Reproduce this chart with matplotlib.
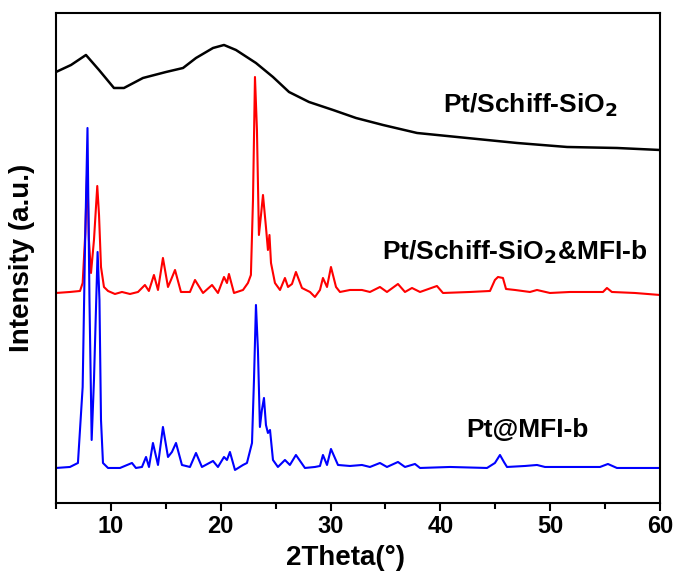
import matplotlib
matplotlib.use("Agg")
import matplotlib.pyplot as plt
from matplotlib.ticker import MultipleLocator

plt.rcParams['font.family'] = ['Liberation Sans', 'DejaVu Sans']
plt.rcParams['font.weight'] = 'bold'
plt.rcParams['mathtext.default'] = 'bf'

# Pt/Schiff-SiO2 (black)
x_black = [5.00, 6.37, 7.73, 8.92, 10.28, 11.19, 12.92, 15.02, 16.57, 17.75,
           19.30, 20.30, 21.39, 23.21, 24.76, 26.22, 28.04, 30.23, 32.32, 34.78,
           37.88, 42.43, 46.99, 51.54, 56.09, 60.00]
y_black = [431, 438, 448, 433, 415, 415, 425, 431, 435, 445,
           455, 458, 453, 440, 426, 411, 401, 393, 385, 378,
           370, 365, 360, 356, 355, 353]

# Pt/Schiff-SiO2&MFI-b (red)
x_red = [5.00, 6.27, 7.19, 7.43, 7.67, 7.85, 8.00, 8.19, 8.46, 8.76,
         8.92, 9.10, 9.37, 9.74, 10.37, 11.01, 11.74, 12.47, 13.10, 13.46,
         13.92, 14.29, 14.74, 15.20, 15.47, 15.84, 16.38, 17.20, 17.66, 18.39,
         19.21, 19.75, 20.30, 20.57, 20.75, 21.21, 22.03, 22.48, 22.75, 22.94,
         23.12, 23.30, 23.48, 23.67, 23.85, 24.12, 24.30, 24.44, 24.58, 24.94,
         25.40, 25.85, 26.13, 26.49, 26.85, 27.40, 28.13, 28.58, 29.04, 29.31,
         29.68, 30.04, 30.50, 30.86, 31.77, 32.86, 33.59, 34.50, 35.14, 36.14,
         36.78, 37.42, 38.15, 39.69, 40.24, 42.70, 44.52, 44.97, 45.25, 45.70,
         45.98, 46.80, 48.16, 48.80, 49.98, 51.80, 54.81, 55.17, 55.62, 57.72,
         60.00]
y_red = [210, 211, 212, 220, 270, 336, 263, 230, 263, 317,
         288, 236, 216, 212, 209, 211, 209, 211, 218, 212,
         228, 213, 245, 216, 223, 233, 211, 211, 223, 210,
         218, 210, 226, 220, 229, 210, 213, 220, 228, 303,
         426, 373, 268, 288, 308, 276, 253, 268, 240, 220,
         213, 225, 216, 219, 231, 215, 211, 206, 213, 225,
         216, 236, 216, 211, 213, 213, 211, 216, 211, 219,
         211, 215, 211, 217, 210, 211, 212, 223, 226, 225,
         214, 213, 211, 213, 210, 211, 211, 215, 211, 210,
         208]

# Pt@MFI-b (blue)
x_blue = [5.00, 6.27, 7.00, 7.43, 7.64, 7.87, 8.05, 8.25, 8.46, 8.79,
          8.96, 9.10, 9.28, 9.74, 10.83, 11.92, 12.28, 12.83, 13.20, 13.47,
          13.83, 14.29, 14.74, 15.20, 15.56, 15.93, 16.47, 17.20, 17.75, 18.29,
          19.30, 19.75, 20.30, 20.57, 20.84, 21.30, 22.03, 22.39, 22.85, 23.03,
          23.21, 23.39, 23.57, 23.75, 23.94, 24.12, 24.30, 24.49, 24.76, 25.21,
          25.85, 26.30, 26.85, 27.67, 28.58, 29.04, 29.31, 29.68, 30.04, 30.68,
          31.77, 32.86, 33.59, 34.50, 35.14, 36.14, 36.78, 37.69, 38.15, 40.88,
          44.25, 44.97, 45.43, 45.79, 46.07, 47.71, 48.80, 49.53, 51.53, 54.54,
          55.26, 56.08, 59.82, 60.00]
y_blue = [35, 36, 40, 116, 253, 375, 203, 63, 123, 251,
          203, 83, 40, 35, 35, 40, 35, 36, 46, 36,
          60, 38, 76, 46, 51, 60, 38, 36, 50, 36,
          42, 36, 46, 43, 51, 33, 38, 40, 60, 123,
          198, 153, 76, 93, 105, 78, 70, 73, 43, 36,
          43, 38, 48, 35, 36, 37, 48, 38, 54, 38,
          37, 38, 36, 40, 36, 41, 36, 39, 35, 36,
          35, 40, 48, 41, 36, 37, 38, 36, 36, 36,
          39, 35, 35, 35]

fig = plt.figure(figsize=(6.76, 5.8), dpi=100)
ax = fig.add_axes([0.0828, 0.1328, 0.8935, 0.8448])

ax.plot(x_black, y_black, color='black', lw=1.8)
ax.plot(x_red, y_red, color='red', lw=1.5)
ax.plot(x_blue, y_blue, color='blue', lw=1.5)

ax.set_xlim(5, 60)
ax.set_ylim(0, 490)

# curve labels
ax.text(0.786, 0.796, 'Pt/Schiff-SiO$_2$', transform=ax.transAxes, fontsize=19,
        fontweight='bold', ha='center', va='baseline')
ax.text(0.760, 0.496, 'Pt/Schiff-SiO$_2$&MFI-b', transform=ax.transAxes, fontsize=19,
        fontweight='bold', ha='center', va='baseline')
ax.text(0.780, 0.135, 'Pt@MFI-b', transform=ax.transAxes, fontsize=19,
        fontweight='bold', ha='center', va='baseline')

ax.set_xlabel('2Theta(°)', fontsize=20, fontweight='bold')
ax.set_ylabel('Intensity (a.u.)', fontsize=20, fontweight='bold')
ax.xaxis.set_label_coords(0.48, -0.085)
ax.yaxis.set_label_coords(-0.035, 0.5)

ax.xaxis.set_major_locator(MultipleLocator(10))
ax.xaxis.set_minor_locator(MultipleLocator(5))
ax.tick_params(axis='x', which='major', direction='out', length=6, width=1.5,
               labelsize=17, pad=3, top=False)
ax.tick_params(axis='x', which='minor', direction='out', length=4, width=1.5, top=False)
ax.set_yticks([])
for lab in ax.get_xticklabels():
    lab.set_fontweight('bold')
for sp in ax.spines.values():
    sp.set_linewidth(1.5)

fig.savefig('out.png', dpi=100)
